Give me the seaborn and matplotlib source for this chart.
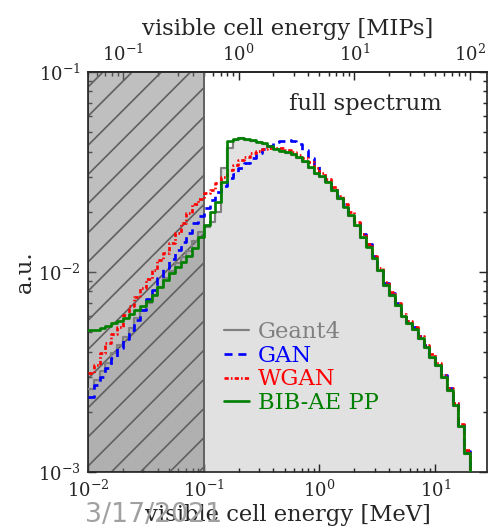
import numpy as np
import matplotlib
matplotlib.use("Agg")
import matplotlib.pyplot as plt
import seaborn as sns

# ---------------- data ----------------
# log10 bin edges in MeV (0.05 decade bins from 10^-2 MeV)
log_edges = [round(v, 4) for v in np.arange(-2.0, 1.4501, 0.05)]
centers = 10 ** (0.5 * (np.array(log_edges[:-1]) + np.array(log_edges[1:])))
MIP_MEV = 0.2  # 1 MIP in MeV

x_ticks = [1e-2, 1e-1, 1e0, 1e1]
mip_ticks = [1e-1, 1e0, 1e1, 1e2]
y_ticks = [1e-3, 1e-2, 1e-1]

geant4 = [0.00259, 0.00288, 0.00321, 0.00352, 0.00392, 0.00432, 0.00475, 0.00522,
          0.00586, 0.00646, 0.00697, 0.00767, 0.00838, 0.00929, 0.01016, 0.01104,
          0.01183, 0.01279, 0.01435, 0.01585, 0.01679, 0.01786, 0.02004, 0.03327,
          0.04188, 0.04571, 0.04656, 0.04571, 0.04519, 0.04446, 0.04345, 0.04236,
          0.04121, 0.04027, 0.03917, 0.03846, 0.03698, 0.03565, 0.03327, 0.03076,
          0.02985, 0.02805, 0.02541, 0.02312, 0.02104, 0.01905, 0.01698, 0.01486,
          0.01327, 0.01159, 0.01012, 0.00855, 0.00759, 0.00676, 0.00596, 0.00550,
          0.00513, 0.00461, 0.00419, 0.00373, 0.00339, 0.00294, 0.00254, 0.00214,
          0.00167, 0.00123, 0.0, 0.0, 0.0]

gan = [0.00238, 0.00272, 0.00300, 0.00330, 0.00370, 0.00415, 0.00460, 0.00513,
       0.00575, 0.00646, 0.00729, 0.00813, 0.00929, 0.01042, 0.01156, 0.01288,
       0.01419, 0.01560, 0.01750, 0.01905, 0.02089, 0.02291, 0.02512, 0.02692,
       0.02951, 0.03090, 0.03311, 0.03508, 0.03715, 0.03936, 0.04121, 0.04266,
       0.04446, 0.04519, 0.04571, 0.04519, 0.04365, 0.04074, 0.03715, 0.03388,
       0.03090, 0.02897, 0.02642, 0.02388, 0.02178, 0.01982, 0.01758, 0.01542,
       0.01374, 0.01197, 0.01047, 0.00881, 0.00785, 0.00700, 0.00617, 0.00569,
       0.00531, 0.00476, 0.00434, 0.00386, 0.00351, 0.00304, 0.00263, 0.00221,
       0.00172, 0.00127, 0.0, 0.0, 0.0]

wgan = [0.00314, 0.00343, 0.00392, 0.00440, 0.00490, 0.00533, 0.00610, 0.00676,
        0.00753, 0.00828, 0.00918, 0.01023, 0.01148, 0.01250, 0.01403, 0.01560,
        0.01750, 0.01963, 0.02188, 0.02317, 0.02483, 0.02570, 0.02773, 0.02999,
        0.03236, 0.03428, 0.03631, 0.03776, 0.03917, 0.04027, 0.04121, 0.04188,
        0.04188, 0.04150, 0.04074, 0.03963, 0.03846, 0.03698, 0.03532, 0.03327,
        0.03112, 0.02917, 0.02661, 0.02399, 0.02188, 0.01995, 0.01770, 0.01549,
        0.01380, 0.01202, 0.01052, 0.00891, 0.00794, 0.00700, 0.00617, 0.00569,
        0.00531, 0.00479, 0.00432, 0.00389, 0.00351, 0.00305, 0.00263, 0.00221,
        0.00174, 0.00129, 0.0, 0.0, 0.0]

bibae = [0.00513, 0.00513, 0.00525, 0.00537, 0.00553, 0.00569, 0.00592, 0.00617,
         0.00646, 0.00676, 0.00716, 0.00767, 0.00838, 0.00912, 0.00984, 0.01064,
         0.01127, 0.01202, 0.01318, 0.01490, 0.01718, 0.01995, 0.02239, 0.02818,
         0.04519, 0.04624, 0.04699, 0.04624, 0.04571, 0.04487, 0.04395, 0.04266,
         0.04121, 0.04046, 0.03981, 0.03890, 0.03741, 0.03606, 0.03365, 0.03112,
         0.03020, 0.02831, 0.02570, 0.02333, 0.02123, 0.01928, 0.01718, 0.01503,
         0.01340, 0.01169, 0.01023, 0.00861, 0.00767, 0.00684, 0.00603, 0.00556,
         0.00519, 0.00466, 0.00424, 0.00378, 0.00343, 0.00297, 0.00257, 0.00216,
         0.00169, 0.00125, 0.0, 0.0, 0.0]

series_names = ["Geant4", "GAN", "WGAN", "BIB-AE PP"]
series_vals = [geant4, gan, wgan, bibae]
series_colors = ["#808080", "#0000ff", "#ff0000", "#008000"]

# ---------------- style ----------------
DPI = 175
sns.set_style("ticks")
plt.rcParams["font.family"] = ["DejaVu Serif"]
plt.rcParams["mathtext.fontset"] = "dejavuserif"
plt.rcParams["hatch.linewidth"] = 0.7
plt.rcParams["axes.linewidth"] = 0.7

fig = plt.figure(figsize=(489 / DPI, 530 / DPI), dpi=DPI)
ax = fig.add_axes([88 / 489, 58 / 530, 399 / 489, 400 / 530])
ax.set_xscale("log")
ax.set_yscale("log")

# filled Geant4 spectrum
sns.histplot(x=centers, weights=geant4, bins=log_edges, element="step", fill=True,
             color="#e1e1e1", alpha=1.0, linewidth=0, ax=ax, zorder=0.5)

# shaded region below 0.1 MeV
ax.axvspan(1e-2, 0.1, facecolor=(0.5, 0.5, 0.5, 0.5), edgecolor=(0.38, 0.38, 0.38),
           hatch="//", linewidth=0.8, zorder=1)

styles = [dict(linestyle="-", linewidth=0.9),
          dict(linestyle=(0, (3.0, 2.2)), linewidth=1.1),
          dict(linestyle=(0, (1.6, 0.8, 0.6, 0.8)), linewidth=1.1),
          dict(linestyle="-", linewidth=1.1)]
for name, vals, col, st in zip(series_names, series_vals, series_colors, styles):
    sns.histplot(x=centers, weights=vals, bins=log_edges, element="step", fill=False,
                 color=col, ax=ax, label=name, zorder=3, **st)

ax.set_xlim(1e-2, 28)
ax.set_ylim(1e-3, 1e-1)
ax.set_xticks(x_ticks)
ax.set_yticks(y_ticks)

ax.set_xlabel("visible cell energy [MeV]", fontsize=9.3, labelpad=1.5)
ax.set_ylabel("a.u.", fontsize=9.3, labelpad=1)

ax.tick_params(which="both", direction="in", top=False, right=True, labelsize=7.4,
               width=0.6, pad=3)
ax.tick_params(which="major", length=3.4)
ax.tick_params(which="minor", length=1.7)

sec = ax.secondary_xaxis("top", functions=(lambda e: e / MIP_MEV, lambda m: m * MIP_MEV))
sec.set_xticks(mip_ticks)
sec.tick_params(which="both", direction="in", labelsize=7.4, width=0.6, pad=3)
sec.tick_params(which="major", length=3.4)
sec.tick_params(which="minor", length=1.7)
sec.set_xlabel("visible cell energy [MIPs]", fontsize=9.3, labelpad=3.5)

ax.text(0.887, 0.905, "full spectrum", transform=ax.transAxes, ha="right",
        va="baseline", fontsize=9.3)

leg = ax.legend(loc="upper left", bbox_to_anchor=(0.341, 0.378), frameon=False,
                fontsize=9.3, handlelength=1.1, handletextpad=0.4, labelspacing=0.08,
                borderpad=0, borderaxespad=0)
for txt, col in zip(leg.get_texts(), series_colors):
    txt.set_color(col)

fig.text(85 / 489, 8 / 530, "3/17/2021", color="#a0a0a0", fontsize=11,
         family=["DejaVu Sans"], ha="left", va="baseline")

fig.savefig("out.png", dpi=DPI)
